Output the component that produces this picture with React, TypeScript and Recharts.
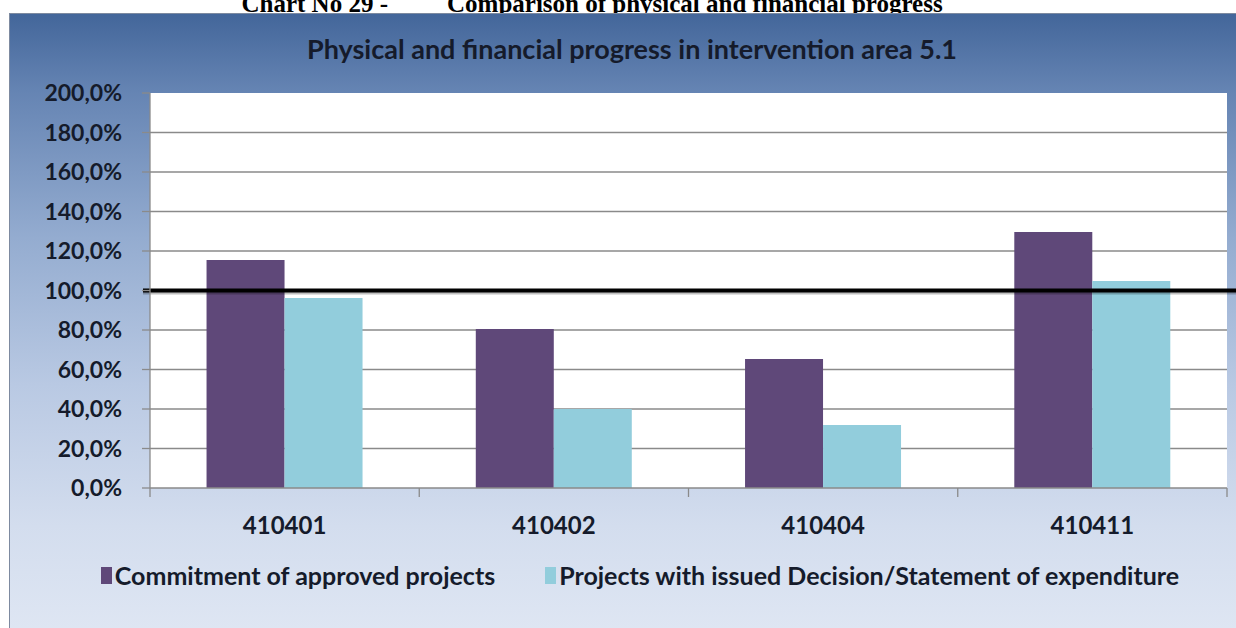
import { Bar, BarChart, CartesianGrid, Legend, ReferenceLine, XAxis, YAxis } from 'recharts';

const categories = ['410401', '410402', '410404', '410411'];
const commitment = [115.4, 80.5, 65.3, 129.6];
const issued = [96.2, 40.0, 31.9, 104.8];
const yTicks = [0, 20, 40, 60, 80, 100, 120, 140, 160, 180, 200];
const targetLevel = 100;

const seriesNames = ['Commitment of approved projects', 'Projects with issued Decision/Statement of expenditure'];
const seriesColors = ['#5f4879', '#92cddc'];

const caption = ['Chart No 29 -', 'Comparison of physical and financial progress'];
const title = 'Physical and financial progress in intervention area 5.1';

const textColor = '#151b2b';
const gridColor = '#8a8a8a';
const font = 'Lato, "Open Sans", sans-serif';

const data = categories.map((c, i) => ({ name: c, commitment: commitment[i], issued: issued[i] }));

const pct = (v: number) => v.toFixed(1).replace('.', ',') + '%';

function CategoryTick(props: any) {
  const { x, y, payload } = props;
  const half = payload.offset ?? 0;
  const last = payload.index === categories.length - 1;
  return (
    <g>
      <line x1={x - half} y1={y} x2={x - half} y2={y + 9} stroke={gridColor} strokeWidth={1.3} />
      {last && <line x1={x + half} y1={y} x2={x + half} y2={y + 9} stroke={gridColor} strokeWidth={1.3} />}
      <text x={x} y={y + 46} textAnchor="middle" fill={textColor} fontSize={24} fontWeight={700} fontFamily={font}>
        {payload.value}
      </text>
    </g>
  );
}

function LegendBox(props: any) {
  const items = props.payload ?? [];
  return (
    <div style={{ display: 'flex', justifyContent: 'center', alignItems: 'center', gap: 50, fontFamily: font }}>
      {items.map((it: any) => (
        <div key={it.value} style={{ display: 'flex', alignItems: 'center', gap: 3 }}>
          <span style={{ display: 'inline-block', width: 11, height: 17, background: it.color }} />
          <span style={{ fontSize: 25, fontWeight: 700, color: textColor }}>{it.value}</span>
        </div>
      ))}
    </div>
  );
}

export default function App() {
  return (
    <div style={{ position: 'absolute', left: 0, top: 0, width: 1236, height: 628, overflow: 'hidden', background: '#fff' }}>
      <div style={{ position: 'absolute', left: 0, top: -9, width: 1236, height: 25, lineHeight: '25px', fontFamily: '"Liberation Serif", "Times New Roman", serif', fontWeight: 700, fontSize: 25, color: '#000' }}>
        <span style={{ position: 'absolute', right: 1236 - 388 }}>{caption[0]}</span>
        <span style={{ position: 'absolute', left: 447 }}>{caption[1]}</span>
      </div>
      <div
        style={{
          position: 'absolute',
          left: 9,
          top: 13,
          width: 1250,
          height: 640,
          border: '1px solid #7d8aa0',
          background: 'linear-gradient(to bottom, #43669a 0%, #6584b3 12%, #94acd0 35%, #b9c9e3 58%, #d3ddee 80%, #e1e8f4 100%)',
        }}
      />
      <div style={{ position: 'absolute', left: 0, top: 32, width: 1264, textAlign: 'center', fontFamily: font, fontWeight: 700, fontSize: 27, color: textColor }}>
        {title}
      </div>
      <div style={{ position: 'absolute', left: 0, top: 0 }}>
        <BarChart width={1236} height={628} data={data} margin={{ top: 93, right: 9, bottom: 100, left: 8 }} barGap={0} barCategoryGap="21%">
          <CartesianGrid vertical={false} fill="#ffffff" stroke={gridColor} strokeWidth={1.3} horizontalValues={yTicks.filter((t) => t > 0 && t < 200)} />
          <XAxis dataKey="name" height={40} axisLine={{ stroke: gridColor, strokeWidth: 1.3 }} tickLine={false} tickSize={0} tickMargin={0} tick={<CategoryTick />} interval={0} />
          <YAxis
            width={142}
            domain={[0, 200]}
            ticks={yTicks}
            tickFormatter={pct}
            axisLine={{ stroke: gridColor, strokeWidth: 1.3 }}
            tickLine={{ stroke: gridColor, strokeWidth: 1.3 }}
            tickSize={8}
            tickMargin={20}
            tick={{ fill: textColor, fontSize: 23, fontWeight: 700, fontFamily: font }}
          />
          <Bar dataKey="commitment" name={seriesNames[0]} fill={seriesColors[0]} isAnimationActive={false} />
          <Bar dataKey="issued" name={seriesNames[1]} fill={seriesColors[1]} isAnimationActive={false} />
          <ReferenceLine
            y={targetLevel}
            shape={(p: any) => (
              <g>
                <line x1={p.x1 - 7} y1={p.y1 + 2} x2={p.x2 + 12} y2={p.y2 + 2} stroke="#000" strokeOpacity={0.25} strokeWidth={4} />
                <line x1={p.x1 - 7} y1={p.y1} x2={p.x2 + 12} y2={p.y2} stroke="#000" strokeWidth={4} />
              </g>
            )}
          />
          <Legend verticalAlign="middle" align="center" layout="horizontal" wrapperStyle={{ top: 560, left: 0, width: 1280 }} content={<LegendBox />} />
        </BarChart>
      </div>
    </div>
  );
}
